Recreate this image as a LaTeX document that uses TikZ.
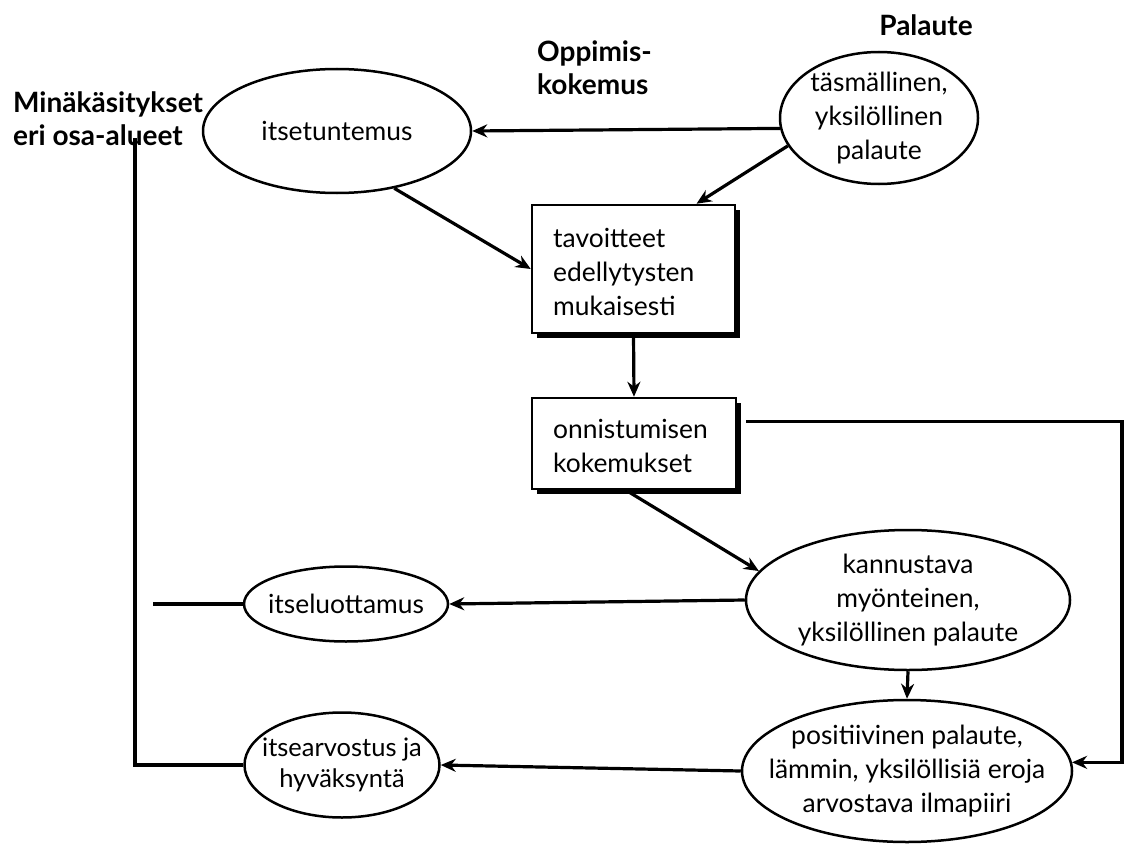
\documentclass[tikz,border=0pt]{standalone}
\usepackage{fontspec}
\setmainfont{Lato}
\usetikzlibrary{shapes.geometric,arrows.meta,shadows,calc}
\begin{document}
\begin{tikzpicture}[x=1pt,y=-1pt,
  ell/.style={draw, ellipse, line width=2.5pt, inner sep=0pt},
  txt/.style={align=center, font=\fontsize{26.4}{34}\selectfont, inner sep=0pt},
  ltxt/.style={align=left, font=\fontsize{26.4}{34}\selectfont, inner sep=0pt, anchor=west},
  hd/.style={font=\bfseries\fontsize{28}{33}\selectfont, align=left, inner sep=0pt},
  sbox/.style={draw, line width=2.5pt, fill=white, inner sep=0pt,
    drop shadow={fill=black, opacity=1, shadow xshift=5pt, shadow yshift=-5pt}},
  arr/.style={line width=3.2pt, -{Stealth[length=15pt,width=13pt]}},
  ln/.style={line width=3.2pt}]
\useasboundingbox (0,0) rectangle (1132,848);

% headings
\node[hd, anchor=center] (hpal) at (926,25) {Palaute};
\node[hd, anchor=west] (hopp) at (537,68) {Oppimis-\\kokemus};
\node[hd, anchor=west] (hmin) at (13,119) {Minäkäsitykset\\eri osa-alueet};

% ellipses
\node[ell, minimum width=268pt, minimum height=124pt] (its) at (337,131) {};
\node[txt] at (its) {itsetuntemus};
\node[ell, minimum width=198pt, minimum height=132pt] (tas) at (879,118) {};
\node[txt] at (tas) {täsmällinen,\\yksilöllinen\\palaute};
\node[ell, minimum width=324pt, minimum height=140pt] (kan) at (908,600) {};
\node[txt] at (kan) {kannustava\\myönteinen,\\yksilöllinen palaute};
\node[ell, minimum width=204pt, minimum height=75pt] (ilu) at (346,604) {};
\node[txt] at (ilu) {itseluottamus};
\node[ell, minimum width=330pt, minimum height=142pt] (pos) at (907,771) {};
\node[txt] at (pos) {positiivinen palaute,\\lämmin, yksilöllisiä eroja\\arvostava ilmapiiri};
\node[ell, minimum width=195pt, minimum height=105pt] (iar) at (342,765) {};
\node[txt, font=\fontsize{25.5}{31}\selectfont] at (iar) {itsearvostus ja\\hyväksyntä};

% boxes
\node[sbox, minimum width=203pt, minimum height=128pt] (box1) at (633.5,269) {};
\node[ltxt] at (553,272) {tavoitteet\\edellytysten\\mukaisesti};
\node[sbox, minimum width=204pt, minimum height=91pt] (box2) at (634,443.5) {};
\node[ltxt] at (553,446) {onnistumisen\\kokemukset};

% helper coordinates
\coordinate (b2r) at ($(box2.north east)+(9,25)$);
\coordinate (rx) at (1122,0);
\coordinate (vx) at (135,0);
\coordinate (vtop) at (135,138);
\coordinate (ilul) at (153,604);

% connectors
\draw[arr] (tas.186) -- (its.east);
\draw[arr] (tas.197) -- ($(box1.north)+(63,0)$);
\draw[arr] (its.-45) -- (box1.west);
\draw[arr] (box1.south) -- (box2.north);
\draw[arr] ($(box2.south)+(-8,0)$) -- (kan.169);
\draw[arr] (b2r) -- (b2r -| rx) |- (pos.3);
\draw[arr] (kan.south) -- (pos.north);
\draw[arr] (kan.west) -- (ilu.east);
\draw[ln] (ilu.west) -- (ilul);
\draw[arr] (pos.west) -- (iar.east);
\draw[ln] (iar.west) -- (iar.west -| vx) -- (vtop);
\end{tikzpicture}
\end{document}
